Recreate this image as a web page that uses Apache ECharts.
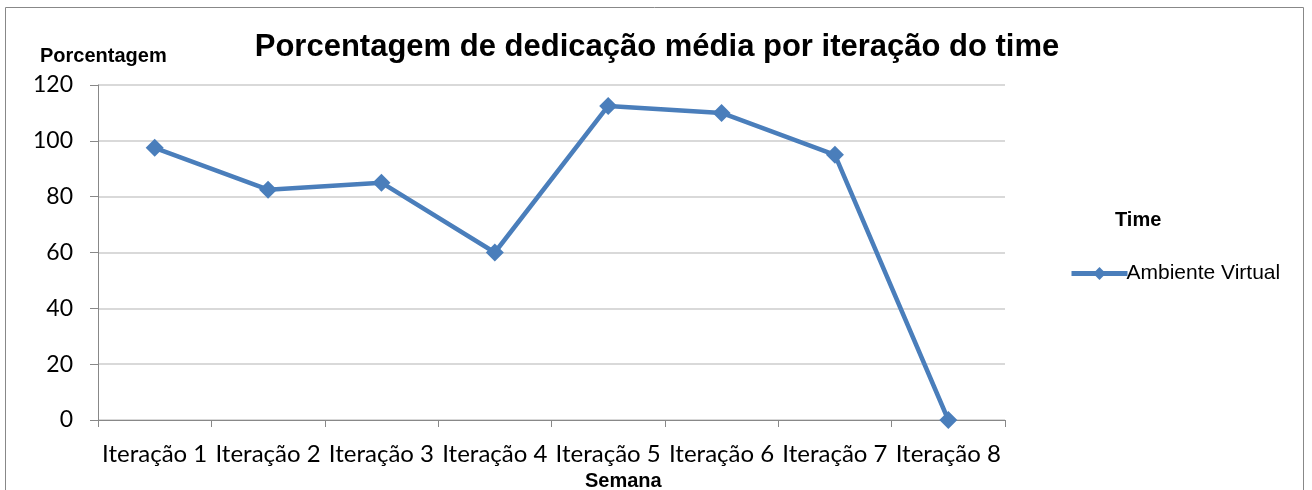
<!DOCTYPE html>
<html>
<head>
<meta charset="utf-8">
<script src="https://cdn.jsdelivr.net/npm/echarts@6/dist/echarts.min.js"></script>
<style>
  html, body { margin: 0; padding: 0; background: #fff; }
  #main { width: 1312px; height: 490px; }
</style>
</head>
<body>
<div id="main"></div>
<script>
// dados do gráfico
var iteracoes = ['Iteração 1', 'Iteração 2', 'Iteração 3', 'Iteração 4', 'Iteração 5', 'Iteração 6', 'Iteração 7', 'Iteração 8'];
var ambienteVirtual = [97.5, 82.5, 85, 60, 112.5, 110, 95, 0];

var chartDom = document.getElementById('main');
var myChart = echarts.init(chartDom);
var option;

option = {
  animation: false,
  title: {
    text: 'Porcentagem de dedicação média por iteração do time',
    left: 652,
    textAlign: 'center',
    top: 27,
    textStyle: { fontFamily: 'Liberation Sans', fontSize: 31, fontWeight: 'bold', color: '#000' }
  },
  graphic: [
    {
      type: 'rect',
      shape: { x: 5.5, y: 7.5, width: 1298, height: 500 },
      style: { fill: 'none', stroke: '#888', lineWidth: 1 }
    },
    {
      type: 'text',
      left: 40, top: 46,
      style: { text: 'Porcentagem', font: 'bold 20px "Liberation Sans"', fill: '#000' }
    },
    {
      type: 'text',
      left: 585, top: 471,
      style: { text: 'Semana', font: 'bold 20px "Liberation Sans"', fill: '#000' }
    },
    {
      type: 'text',
      left: 1115, top: 210,
      style: { text: 'Time', font: 'bold 20px "Liberation Sans"', fill: '#000' }
    }
  ],
  legend: {
    left: 1064,
    top: 258,
    itemWidth: 56,
    itemHeight: 16,
    itemGap: 4,
    textStyle: { fontFamily: 'Liberation Sans', fontSize: 21, color: '#000', padding: [0, 0, 0, -6] },
    data: [{ name: 'Ambiente Virtual', lineStyle: { width: 5, color: '#4a7ebb' } }]
  },
  grid: {
    left: 98,
    right: 307,
    top: 85,
    bottom: 70
  },
  xAxis: {
    type: 'category',
    data: iteracoes,
    boundaryGap: true,
    axisLine: { lineStyle: { color: '#888', width: 1 } },
    axisTick: { show: true, alignWithLabel: false, length: 7, lineStyle: { color: '#888' } },
    axisLabel: { fontFamily: 'Lato', fontSize: 24, color: '#000', margin: 22, interval: 0 }
  },
  yAxis: {
    type: 'value',
    min: 0,
    max: 120,
    interval: 20,
    axisLine: { show: true, lineStyle: { color: '#888', width: 1 } },
    axisTick: { show: true, length: 8, lineStyle: { color: '#888' } },
    axisLabel: { fontFamily: 'Lato', fontSize: 23, color: '#000', margin: 25 },
    splitLine: { lineStyle: { color: '#d9d9d9', width: 2 } }
  },
  series: [
    {
      name: 'Ambiente Virtual',
      type: 'line',
      data: ambienteVirtual,
      symbol: 'diamond',
      symbolSize: 18,
      itemStyle: { color: '#4a7ebb' },
      lineStyle: { color: '#4a7ebb', width: 4.5 }
    }
  ]
};

option && myChart.setOption(option);
</script>
</body>
</html>
